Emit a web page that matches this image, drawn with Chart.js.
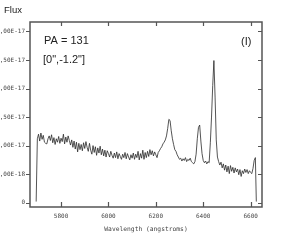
<!DOCTYPE html>
<html>
<head>
<meta charset="utf-8">
<script src="https://cdn.jsdelivr.net/npm/chart.js@4/dist/chart.umd.min.js"></script>
<style>
	body { margin: 0; background: #fff; }
	canvas { display: block; }
</style>
</head>
<body>
<canvas id="spec_Chart" width="296" height="244"></canvas>
<script>
// wavelength grid (angstroms) and flux in units of 1e-17
var wavelength = [5695,5700,5705,5710,5715,5720,5725,5730,5735,5740,5745,5750,5755,5760,5765,5770,5775,5780,5785,5790,5795,
	5800,5805,5810,5815,5820,5825,5830,5835,5840,5845,5850,5855,5860,5865,5870,5875,5880,5885,5890,5895,
	5900,5905,5910,5915,5920,5925,5930,5935,5940,5945,5950,5955,5960,5965,5970,5975,5980,5985,5990,5995,
	6000,6005,6010,6015,6020,6025,6030,6035,6040,6045,6050,6055,6060,6065,6070,6075,6080,6085,6090,6095,
	6100,6105,6110,6115,6120,6125,6130,6135,6140,6145,6150,6155,6160,6165,6170,6175,6180,6185,6190,6195,
	6200,6205,6210,6215,6220,6225,6230,6235,6240,6245,6250,6255,6260,6265,6270,6275,6280,6285,6290,6295,
	6300,6305,6310,6315,6320,6325,6330,6335,6340,6345,6350,6355,6360,6365,6370,6375,6380,6385,6390,6395,
	6400,6405,6410,6415,6420,6425,6430,6435,6440,6445,6450,6455,6460,6465,6470,6475,6480,6485,6490,6495,
	6500,6505,6510,6515,6520,6525,6530,6535,6540,6545,6550,6555,6560,6565,6570,6575,6580,6585,6590,6595,
	6600,6605,6610,6615,6620,6624];
var flux = [0.02,1.12,1.20,1.08,1.22,1.11,1.18,1.06,1.04,1.03,1.12,1.17,1.09,1.19,1.05,1.14,1.02,1.12,1.06,1.16,1.04,
	1.13,1.07,1.20,1.03,1.15,1.06,1.17,1.09,1.01,1.10,0.97,1.08,0.94,1.06,0.89,1.04,0.93,1.02,0.91,1.05,
	0.95,1.07,0.97,0.90,1.04,0.92,0.85,1.00,0.88,0.98,0.83,0.96,0.87,0.99,0.84,0.94,0.82,0.92,0.80,0.91,
	0.86,0.80,0.90,0.83,0.78,0.87,0.79,0.89,0.77,0.86,0.81,0.76,0.85,0.79,0.88,0.77,0.86,0.80,0.75,0.84,
	0.78,0.87,0.76,0.85,0.79,0.90,0.75,0.86,0.78,0.92,0.76,0.88,0.79,0.90,0.81,0.93,0.84,0.91,0.82,0.89,
	0.84,0.79,0.88,0.91,0.95,0.98,1.03,1.06,1.10,1.17,1.30,1.46,1.44,1.26,1.12,1.02,0.93,0.90,0.84,0.80,
	0.76,0.78,0.73,0.77,0.74,0.79,0.72,0.76,0.74,0.78,0.72,0.70,0.68,0.72,0.85,1.12,1.32,1.36,1.08,0.86,
	0.74,0.70,0.73,0.68,0.72,0.70,1.05,1.50,2.05,2.49,1.85,1.10,0.80,0.72,0.66,0.71,0.61,0.68,0.57,0.66,
	0.54,0.64,0.51,0.65,0.55,0.62,0.52,0.61,0.54,0.59,0.49,0.58,0.46,0.56,0.51,0.59,0.53,0.58,0.51,0.56,
	0.53,0.51,0.60,0.74,0.79,0.02];
var xTickValues = [5800, 6000, 6200, 6400, 6600];
var yTickValues = [0, 0.5, 1.0, 1.5, 2.0, 2.5, 3.0];
var fluxScale = 1e-17;

var points = [];
for (var i = 0; i < wavelength.length; i++) {
	points.push({x: wavelength[i], y: flux[i]});
}

function fmtFlux(v) {
	if (v === 0) return '0';
	return (v * fluxScale).toExponential(2).replace('.', ',').replace('e', 'E');
}

// box, inward ticks and the free text
var framePlugin = {
	id: 'frame',
	afterDraw: function(chart) {
		var c = chart.ctx;
		var a = chart.chartArea;
		var xs = chart.scales.x, ys = chart.scales.y;
		c.save();
		c.strokeStyle = '#555';
		c.lineWidth = 1.5;
		c.strokeRect(a.left, a.top, a.right - a.left, a.bottom - a.top);
		c.lineWidth = 1.2;
		c.beginPath();
		xTickValues.forEach(function(v) {
			var px = Math.round(xs.getPixelForValue(v)) + 0.5;
			c.moveTo(px, a.bottom); c.lineTo(px, a.bottom - 5);
			c.moveTo(px, a.top); c.lineTo(px, a.top + 4);
		});
		yTickValues.forEach(function(v) {
			var py = Math.round(ys.getPixelForValue(v)) + 0.5;
			c.moveTo(a.left, py); c.lineTo(a.left - 4, py);
			c.moveTo(a.right, py); c.lineTo(a.right - 4, py);
		});
		c.stroke();

		c.fillStyle = '#222';
		c.textBaseline = 'middle';
		c.textAlign = 'left';
		c.font = '9.5px "Liberation Sans", Arial, sans-serif';
		c.fillText('Flux', 4, 10);
		c.font = '11px "Liberation Sans", Arial, sans-serif';
		c.fillText('PA = 131', 44, 41);
		c.fillText('[0",-1.2"]', 43, 60);
		c.fillText('(I)', 241, 42);
		c.restore();
	}
};

var ctx = document.getElementById('spec_Chart').getContext('2d');
var specChart = new Chart(ctx, {
	type: 'line',
	data: {
		datasets: [{
			data: points,
			borderColor: '#2a2a2a',
			borderWidth: 0.8,
			pointRadius: 0,
			tension: 0,
			fill: false
		}]
	},
	options: {
		responsive: false,
		animation: false,
		layout: { padding: { top: 22, right: 34, left: 0, bottom: 0 } },
		plugins: { legend: { display: false }, tooltip: { enabled: false } },
		scales: {
			x: {
				type: 'linear',
				min: 5669,
				max: 6648,
				grid: { display: false, drawTicks: false },
				border: { display: false },
				afterBuildTicks: function(s) { s.ticks = xTickValues.map(function(v) { return {value: v}; }); },
				afterFit: function(s) { s.height = 37; },
				ticks: {
					autoSkip: false,
					maxRotation: 0,
					padding: 6,
					color: '#444',
					font: { family: '"DejaVu Sans Mono", monospace', size: 6 },
					callback: function(v) { return String(v); }
				},
				title: {
					display: true,
					text: 'Wavelength (angstroms)',
					color: '#444',
					padding: { top: 0, bottom: 11 },
					font: { family: '"DejaVu Sans Mono", monospace', size: 6.3 }
				}
			},
			y: {
				min: -0.075,
				max: 3.165,
				grid: { display: false, drawTicks: false },
				border: { display: false },
				afterBuildTicks: function(s) { s.ticks = yTickValues.map(function(v) { return {value: v}; }); },
				afterFit: function(s) { s.width = 30; },
				ticks: {
					autoSkip: false,
					padding: 5,
					color: '#444',
					font: { family: '"DejaVu Sans Mono", monospace', size: 6 },
					callback: function(v) { return fmtFlux(v); }
				}
			}
		}
	},
	plugins: [framePlugin]
});
</script>
</body>
</html>
